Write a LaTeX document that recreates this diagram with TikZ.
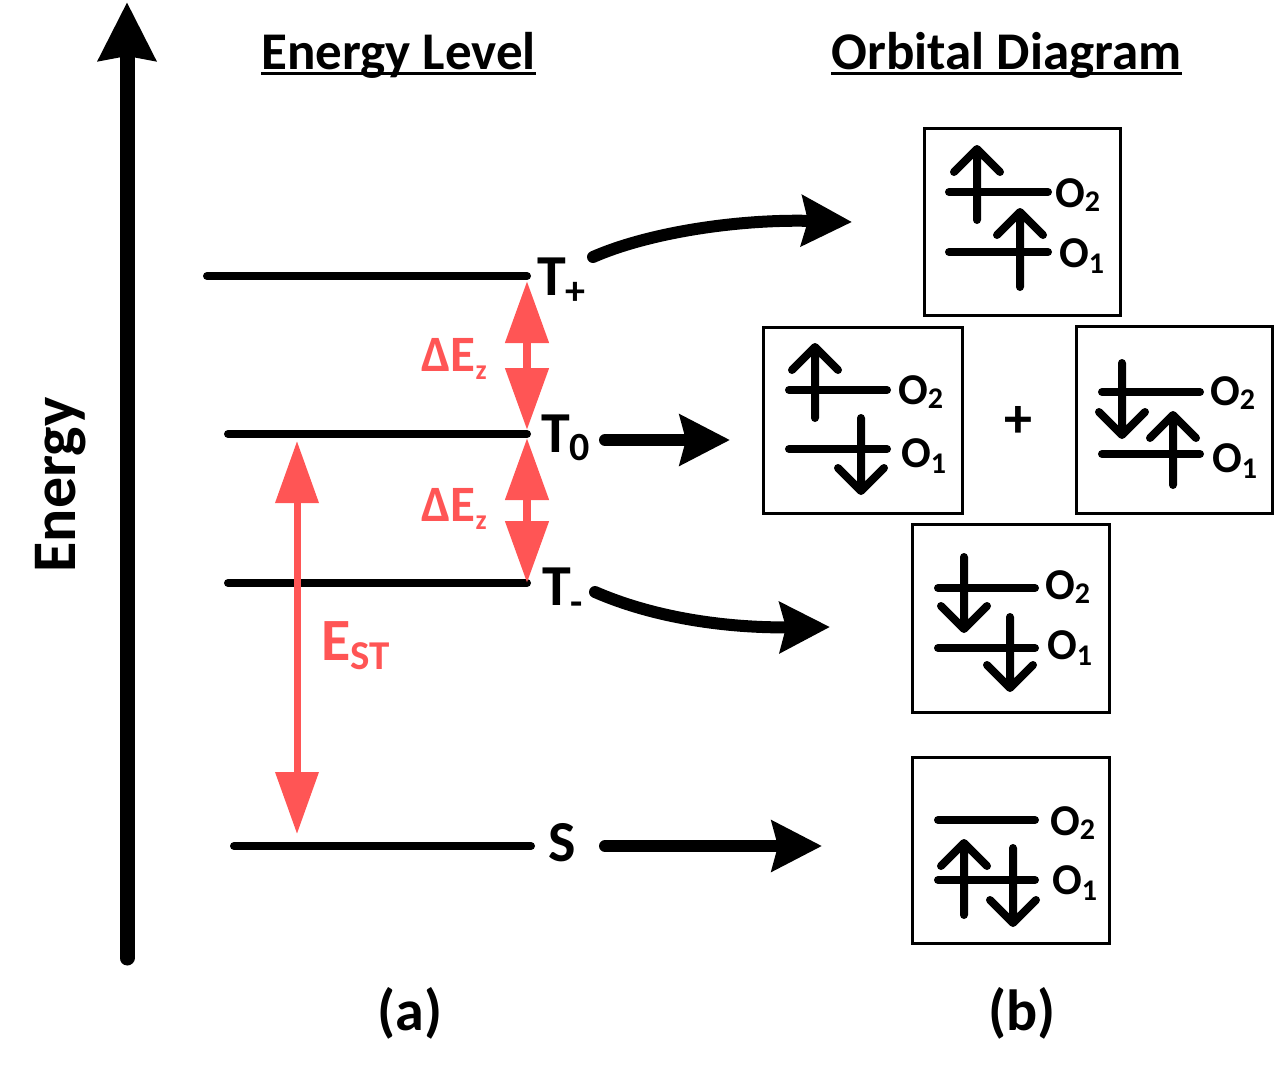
\documentclass[tikz,border=0pt]{standalone}
\usepackage{fontspec}
\setmainfont{Carlito}
\usetikzlibrary{arrows.meta}
\definecolor{myred}{RGB}{255,85,85}
\newcommand\fsz[1]{\fontsize{#1}{#1}\selectfont}
\newcommand\mysub[3]{\raisebox{-#1pt}{\fsz{#2}#3}}
\newcommand\spinup[3]{\draw[orb] (#1,#2) -- (#1,#3) ({#1-23},{#3+23}) -- (#1,#3) -- ({#1+23},{#3+23});}
\newcommand\spindown[3]{\draw[orb] (#1,#2) -- (#1,#3) ({#1-23},{#3-23}) -- (#1,#3) -- ({#1+23},{#3-23});}
\begin{document}
\begin{tikzpicture}[x=1pt,y=-1pt,
  lvl/.style={line width=8pt,line cap=round},
  orb/.style={line width=8pt,line cap=round,line join=round},
  lbl/.style={inner sep=0pt,anchor=base west,font=\bfseries\fsz{58}},
  olbl/.style={inner sep=0pt,anchor=base west,font=\bfseries\fsz{44}},
  redlbl/.style={inner sep=0pt,anchor=base west,text=myred},
  head/.style={inner sep=0pt,anchor=base,font=\bfseries\fsz{53}},
  obox/.style={draw,line width=3pt,inner sep=0pt},
  rarr/.style={myred,line width=8pt,{Triangle[length=62pt,width=42pt]}-{Triangle[length=62pt,width=42pt]}},
  bigarr/.style={line width=12pt,line cap=round,-{Stealth[length=50pt,width=50pt,inset=6pt]}},
]
\useasboundingbox (0,0) rectangle (1278,1080);

% energy axis
\coordinate (axb) at (127,958);
\coordinate (axt) at (127,2);
\draw[line width=15pt,line cap=round,-{Stealth[length=58pt,width=56pt,inset=4pt]}] (axb) -- (axt);
\node[inner sep=0pt,anchor=base,rotate=90,font=\bfseries\fsz{62}] (energy) at (75,485) {Energy};

% headings
\node[head] (hEL) at (398.5,69) {Energy Level};
\node[head] (hOD) at (1006.5,69) {Orbital Diagram};
\draw[line width=3pt] ([yshift=-4.5pt]hEL.base west) -- ([yshift=-4.5pt]hEL.base east);
\draw[line width=3pt] ([yshift=-4.5pt]hOD.base west) -- ([yshift=-4.5pt]hOD.base east);

% levels
\coordinate (tpL) at (207,276); \coordinate (tpR) at (527,276);
\coordinate (t0L) at (228,434); \coordinate (t0R) at (527,434);
\coordinate (tmL) at (228,583); \coordinate (tmR) at (527,583);
\coordinate (sL) at (234,846);  \coordinate (sR) at (531,846);
\draw[lvl] (tpL) -- (tpR);
\draw[lvl] (t0L) -- (t0R);
\draw[lvl] (tmL) -- (tmR);
\draw[lvl] (sL) -- (sR);

% level labels
\node[lbl] (Tp) at (537,295) {T\mysub{9}{40}{+}};
\node[lbl] (T0) at (541,452) {T\mysub{8}{40}{0}};
\node[lbl] (Tm) at (542,605) {T\mysub{10}{40}{-}};
\node[lbl] (S)  at (548,861) {S};

% red arrows
\draw[rarr,shorten <=5pt,shorten >=4pt] (tpR) -- (t0R);
\draw[rarr,shorten <=4pt,shorten >=0pt] (t0R) -- (tmR);
\coordinate (estT) at (297,441);
\coordinate (estB) at (297,834);
\draw[rarr,line width=7pt] (estT) -- (estB);
\node[redlbl,font=\bfseries\fsz{51}] (dez1) at (421,371) {ΔE\mysub{8}{28}{z}};
\node[redlbl,font=\bfseries\fsz{51}] (dez2) at (421,521) {ΔE\mysub{8}{28}{z}};
\node[redlbl,font=\bfseries\fsz{60}] (est) at (321,660) {E\mysub{9}{41}{ST}};

% transition arrows
\coordinate (aps) at (593,257); \coordinate (ape) at (852,222);
\coordinate (a0s) at (605,440); \coordinate (a0e) at (730,440);
\coordinate (ams) at (595,592); \coordinate (ame) at (830,627);
\coordinate (ass) at (605,846); \coordinate (ase) at (822,846);
\draw[bigarr] (aps) .. controls (650,232) and (740,219) .. (ape);
\draw[bigarr] (a0s) -- (a0e);
\draw[bigarr] (ams) .. controls (650,616) and (720,628) .. (ame);
\draw[bigarr] (ass) -- (ase);

% boxes
\node[obox,minimum width=196pt,minimum height=187pt] (bTp) at (1022,221.5) {};
\node[obox,minimum width=199pt,minimum height=186pt] (bT0a) at (862.5,420) {};
\node[obox,minimum width=196pt,minimum height=187pt] (bT0b) at (1174,419.5) {};
\node[obox,minimum width=197pt,minimum height=188pt] (bTm) at (1010.5,618) {};
\node[obox,minimum width=197pt,minimum height=186pt] (bS) at (1010.5,850) {};
\node[inner sep=0pt,font=\bfseries\fsz{56}] (plus) at (1018,422) {+};

% box T+
\draw[lvl] (949,192) -- (1048,192);
\draw[lvl] (949,252) -- (1048,252);
\spinup{977}{220}{149}
\spinup{1020}{287}{212}
\node[olbl] (oTp2) at (1055,207) {O\mysub{4}{30}{2}};
\node[olbl] (oTp1) at (1059,267) {O\mysub{6}{30}{1}};

% box T0 left
\draw[lvl] (789,390) -- (887,390);
\draw[lvl] (789,449) -- (887,449);
\spinup{815}{418}{347}
\spindown{861}{418}{491}
\node[olbl] (oT0a2) at (898,404) {O\mysub{4}{30}{2}};
\node[olbl] (oT0a1) at (901,467) {O\mysub{6}{30}{1}};

% box T0 right
\draw[lvl] (1102,392) -- (1200,392);
\draw[lvl] (1102,454) -- (1200,454);
\spindown{1122}{363}{435}
\spinup{1173}{485}{415}
\node[olbl] (oT0b2) at (1210,405) {O\mysub{4}{30}{2}};
\node[olbl] (oT0b1) at (1212,472) {O\mysub{6}{30}{1}};

% box T-
\draw[lvl] (938,588) -- (1035,588);
\draw[lvl] (938,648) -- (1035,648);
\spindown{964}{557}{629}
\spindown{1010}{617}{688}
\node[olbl] (oTm2) at (1045,599) {O\mysub{4}{30}{2}};
\node[olbl] (oTm1) at (1047,659) {O\mysub{6}{30}{1}};

% box S
\draw[lvl] (938,820) -- (1035,820);
\draw[lvl] (938,880) -- (1035,880);
\spinup{964}{915}{843}
\spindown{1013}{848}{923}
\node[olbl] (oS2) at (1050,835) {O\mysub{4}{30}{2}};
\node[olbl] (oS1) at (1052,894) {O\mysub{6}{30}{1}};

% panel labels
\node[inner sep=0pt,anchor=base,font=\bfseries\fsz{58}] (pa) at (410,1030) {(a)};
\node[inner sep=0pt,anchor=base,font=\bfseries\fsz{58}] (pb) at (1022,1030) {(b)};
\end{tikzpicture}
\end{document}
